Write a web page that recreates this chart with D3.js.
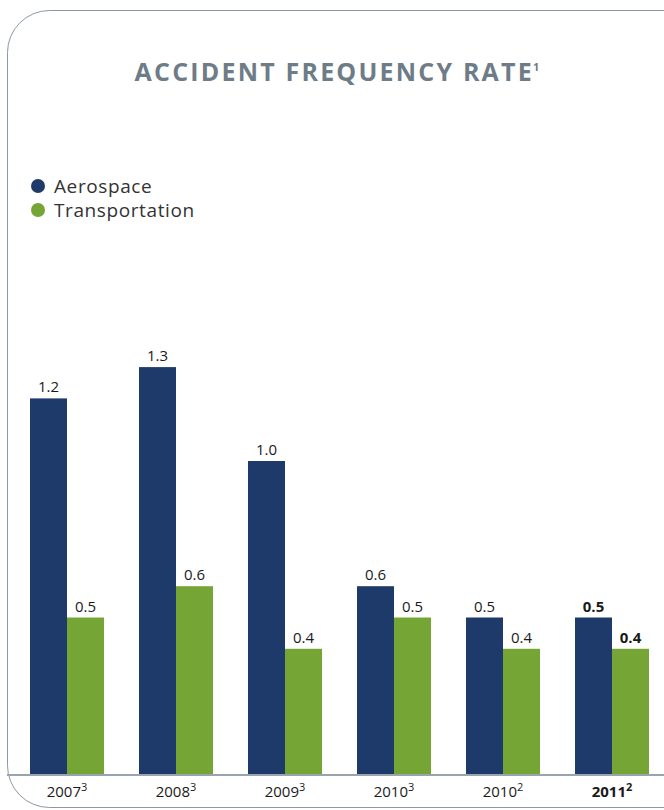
<!DOCTYPE html>
<html>
<head>
<meta charset="utf-8">
<script src="https://cdn.jsdelivr.net/npm/d3@7"></script>
<style>
  body { margin: 0; background: #fff; }
  svg { display: block; }
</style>
</head>
<body>
<div id="chart"></div>
<script>
const years = ['2007', '2008', '2009', '2010', '2010', '2011'];
const notes = ['3', '3', '3', '3', '2', '2'];
const series = ['Aerospace', 'Transportation'];
const aerospace = [1.2, 1.3, 1.0, 0.6, 0.5, 0.5];
const transportation = [0.5, 0.6, 0.4, 0.5, 0.4, 0.4];

const width = 664, height = 810;
const colors = d3.scaleOrdinal(series, ['#1d3a6a', '#74a535']);
const font = '"Open Sans", Lato, sans-serif';

const svg = d3.select('#chart').append('svg')
  .attr('width', width).attr('height', height);

// frame
svg.append('rect')
  .attr('x', 7.5).attr('y', 10.5)
  .attr('width', 700).attr('height', 797)
  .attr('rx', 42).attr('ry', 42)
  .attr('fill', 'none').attr('stroke', '#8d98a3').attr('stroke-width', 1);

// title
const title = svg.append('text')
  .attr('x', 338).attr('y', 81)
  .attr('text-anchor', 'middle')
  .style('font-family', font).style('font-weight', 700)
  .style('font-size', '25px').style('fill', '#6e7c87')
  .style('letter-spacing', '2.2px');
title.append('tspan').text('ACCIDENT FREQUENCY RATE');
title.append('tspan').attr('dy', -10).attr('dx', -1).style('font-size', '11px').text('1');

// legend
const legend = svg.append('g');
series.forEach((s, i) => {
  const g = legend.append('g').attr('transform', `translate(38, ${186 + i * 24})`);
  g.append('circle').attr('r', 7).attr('fill', colors(s));
  g.append('text').attr('x', 16).attr('dy', '0.35em')
    .style('font-family', font).style('font-size', '19px').style('fill', '#333')
    .style('letter-spacing', '0.6px')
    .text(s);
});

// scales
const x = d3.scaleBand()
  .domain(d3.range(years.length))
  .range([30, 649])
  .paddingInner(35 / 109).paddingOuter(0);
const xs = d3.scaleBand().domain(series).range([0, x.bandwidth()]);
const y = d3.scaleLinear().domain([0, 1]).range([774, 461]);

const rows = years.map((yr, i) => ({
  i, yr, note: notes[i],
  values: [
    {key: 'Aerospace', v: aerospace[i]},
    {key: 'Transportation', v: transportation[i]}
  ]
}));

const groups = svg.selectAll('g.grp').data(rows).enter().append('g')
  .attr('class', 'grp')
  .attr('transform', d => `translate(${x(d.i)},0)`);

groups.selectAll('rect').data(d => d.values).enter().append('rect')
  .attr('x', d => xs(d.key))
  .attr('y', d => y(d.v))
  .attr('width', xs.bandwidth())
  .attr('height', d => y(0) - y(d.v))
  .attr('fill', d => colors(d.key));

groups.each(function(row) {
  const last = row.i === years.length - 1;
  d3.select(this).selectAll('text.val').data(row.values).enter().append('text')
    .attr('class', 'val')
    .attr('x', d => xs(d.key) + xs.bandwidth() / 2)
    .attr('y', d => y(d.v) - 6)
    .attr('text-anchor', 'middle')
    .style('font-family', font).style('font-size', '15px')
    .style('font-weight', last ? 700 : 400)
    .style('fill', '#1a1a1a')
    .text(d => d3.format('.1f')(d.v));
});

// baseline
svg.append('line')
  .attr('x1', 7).attr('x2', width)
  .attr('y1', y(0) + 1).attr('y2', y(0) + 1)
  .attr('stroke', '#9aa4ae').attr('stroke-width', 2);

// category labels
const cats = svg.selectAll('text.cat').data(rows).enter().append('text')
  .attr('class', 'cat')
  .attr('x', d => x(d.i) + x.bandwidth() / 2)
  .attr('y', 797)
  .attr('text-anchor', 'middle')
  .style('font-family', font).style('font-size', '15px')
  .style('font-weight', d => d.i === years.length - 1 ? 700 : 400)
  .style('fill', '#1a1a1a');
cats.append('tspan').text(d => d.yr);
cats.append('tspan').attr('dy', -6).style('font-size', '11px').text(d => d.note);
</script>
</body>
</html>
